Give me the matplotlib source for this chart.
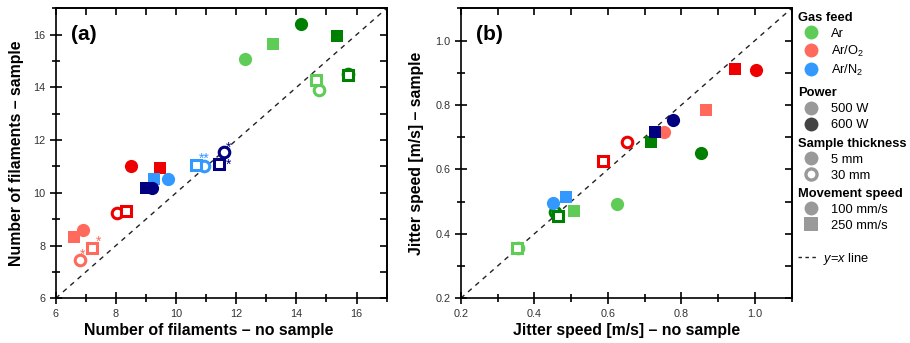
import numpy as np
import matplotlib
matplotlib.use('Agg')
import matplotlib.pyplot as plt
from matplotlib.lines import Line2D
from matplotlib.ticker import MultipleLocator

plt.rcParams['font.family'] = ['Liberation Sans', 'DejaVu Sans']
plt.rcParams['mathtext.fontset'] = 'custom'
plt.rcParams['mathtext.rm'] = 'Liberation Sans'
plt.rcParams['mathtext.it'] = 'Liberation Sans:italic'

# conditions of each measurement (24 combinations)
gas = ['Ar'] * 8 + ['Ar/O2'] * 8 + ['Ar/N2'] * 8
power = [500, 500, 500, 500, 600, 600, 600, 600] * 3
thickness = [5, 5, 30, 30] * 6
speed = [100, 250] * 12

# (a) number of filaments
fil_no_sample = [12.28, 13.22, 14.75, 14.66, 14.16, 15.36, 15.71, 15.72,
                 6.91, 6.60, 6.80, 7.20, 8.49, 9.48, 8.04, 8.33,
                 9.73, 9.26, 10.92, 10.67, 9.21, 9.01, 11.59, 11.42]
fil_sample = [15.08, 15.63, 13.90, 14.28, 16.40, 15.95, 14.50, 14.48,
              8.58, 8.33, 7.44, 7.90, 11.01, 10.96, 9.22, 9.32,
              10.52, 10.54, 11.01, 11.05, 10.20, 10.19, 11.56, 11.08]
fil_stars = ['', '', '', '', '', '', '', '',
             '', '', '*', '*', '', '', '', '',
             '', '', '**', '', '', '', '*', '*']

# (b) jitter speed (nan = not measured)
nan = np.nan
jit_no_sample = [0.624, 0.508, 0.355, 0.352, 0.854, 0.718, 0.455, 0.464,
                 0.754, 0.868, nan, nan, 1.002, 0.945, 0.652, 0.587,
                 0.451, 0.485, nan, nan, 0.777, 0.727, nan, nan]
jit_sample = [0.494, 0.470, 0.355, 0.357, 0.652, 0.684, 0.468, 0.455,
              0.717, 0.785, nan, nan, 0.908, 0.912, 0.686, 0.627,
              0.497, 0.513, nan, nan, 0.752, 0.717, nan, nan]

colors = {('Ar', 500): '#5fcc57', ('Ar', 600): '#008000',
          ('Ar/O2', 500): '#ff6a5c', ('Ar/O2', 600): '#ee0000',
          ('Ar/N2', 500): '#3399ff', ('Ar/N2', 600): '#000080'}
# star placement (offset points, baseline) next to its marker
star_offset = {('Ar/O2', 500, 30, 100): (1.7, 0.9),
               ('Ar/O2', 500, 30, 250): (5.0, 1.9),
               ('Ar/N2', 500, 30, 100): (0.7, 2.6),
               ('Ar/N2', 600, 30, 100): (3.6, -0.3),
               ('Ar/N2', 600, 30, 250): (7.0, -3.4)}

fig = plt.figure(figsize=(9.10, 3.43), dpi=100)
ax_a = fig.add_axes([0.0612, 0.1303, 0.3637, 0.8455])
ax_b = fig.add_axes([0.5063, 0.1303, 0.3637, 0.8455])


def draw_points(ax, xs, ys, stars=None):
    for i in range(len(xs)):
        if np.isnan(xs[i]):
            continue
        c = colors[(gas[i], power[i])]
        m = 'o' if speed[i] == 100 else 's'
        if thickness[i] == 5:
            ax.plot(xs[i], ys[i], m, color=c, ms=9.5 if m == 'o' else 8.8,
                    mew=0, zorder=3)
        else:
            ax.plot(xs[i], ys[i], m, mfc='white', mec=c,
                    ms=7.6 if m == 'o' else 7.0, mew=2.2, zorder=3)
        if stars and stars[i]:
            off = star_offset[(gas[i], power[i], thickness[i], speed[i])]
            ax.annotate(stars[i], (xs[i], ys[i]), xytext=off,
                        textcoords='offset points', color=c, fontsize=10,
                        ha='center', va='baseline', zorder=4)


def style_axes(ax, lo, hi, major, minor, xlabel, ylabel, tag, fmt,
               xlab_x, ylab_x):
    ax.plot([lo, hi], [lo, hi], color='#222222', lw=1.0, ls=(0, (3.5, 3.5)),
            zorder=2)
    ax.set_xlim(lo, hi)
    ax.set_ylim(lo, hi)
    for axis in (ax.xaxis, ax.yaxis):
        axis.set_major_locator(MultipleLocator(major))
        axis.set_minor_locator(MultipleLocator(minor))
        axis.set_major_formatter(fmt)
    ax.tick_params(which='both', direction='inout', top=False, right=False,
                   width=1.2, labelsize=7.8, labelcolor='#333333')
    ax.tick_params(which='major', length=9, pad=3)
    ax.tick_params(which='minor', length=6)
    sec_x = ax.secondary_xaxis('top')
    sec_y = ax.secondary_yaxis('right')
    for s, axis in ((sec_x, sec_x.xaxis), (sec_y, sec_y.yaxis)):
        axis.set_major_locator(MultipleLocator(major))
        axis.set_minor_locator(MultipleLocator(minor))
        s.tick_params(which='both', direction='in', width=1.2, length=5,
                      labelleft=False, labelright=False, labeltop=False)
        for sp in s.spines.values():
            sp.set_linewidth(1.2)
    for sp in ax.spines.values():
        sp.set_linewidth(1.2)
    ax.set_xlabel(xlabel, fontsize=11.4, fontweight='bold')
    ax.set_ylabel(ylabel, fontsize=11.4, fontweight='bold')
    ax.xaxis.set_label_coords(xlab_x, -0.085)
    ax.yaxis.set_label_coords(ylab_x, 0.5)
    ax.text(0.045, 0.91, tag, transform=ax.transAxes, fontsize=15,
            fontweight='bold', va='center', ha='left')


draw_points(ax_a, fil_no_sample, fil_sample, fil_stars)
style_axes(ax_a, 6, 17, 2, 1, 'Number of filaments – no sample',
           'Number of filaments – sample', '(a)', '{x:.0f}', 0.462, -0.096)

draw_points(ax_b, jit_no_sample, jit_sample)
style_axes(ax_b, 0.2, 1.1, 0.2, 0.1, 'Jitter speed [m/s] – no sample',
           'Jitter speed [m/s] – sample', '(b)', '{x:.1f}', 0.5, -0.111)

# legend blocks
grey, dark = '#999999', '#444444'


def circ(c, **kw):
    return Line2D([], [], ls='none', marker='o', color=c, ms=10, mew=0, **kw)


blocks = [
    ('Gas feed', [circ('#5fcc57'), circ('#ff6a5c'), circ('#3399ff')],
     ['Ar', r'Ar/O$_\mathregular{2}$', r'Ar/N$_\mathregular{2}$'], 0.966),
    ('Power', [circ(grey), circ(dark)], ['500 W', '600 W'], 0.745),
    ('Sample thickness',
     [circ(grey), Line2D([], [], ls='none', marker='o', mfc='white', mec=grey,
                         ms=8, mew=2.4)],
     ['5 mm', '30 mm'], 0.598),
    ('Movement speed',
     [circ(grey), Line2D([], [], ls='none', marker='s', color=grey, ms=9.5,
                         mew=0)],
     ['100 mm/s', '250 mm/s'], 0.452),
]
for title, handles, labels, ytop in blocks:
    fig.legend(handles, labels, title=title, loc='upper left',
               bbox_to_anchor=(0.877, ytop), frameon=False, fontsize=9.3,
               title_fontproperties={'weight': 'bold', 'size': 9.3},
               alignment='left', borderpad=0, borderaxespad=0,
               handlelength=1.95, handletextpad=0.6, labelspacing=0.3)

fig.legend([Line2D([], [], color='#222222', lw=1.0, ls=(0, (2.5, 2.5)))],
           [r'$\mathit{y}$=$\mathit{x}$ line'], loc='upper left',
           bbox_to_anchor=(0.877, 0.269), frameon=False, fontsize=9.3,
           borderpad=0, borderaxespad=0, handlelength=1.55,
           handletextpad=0.4)

fig.savefig('out.png', dpi=100)
